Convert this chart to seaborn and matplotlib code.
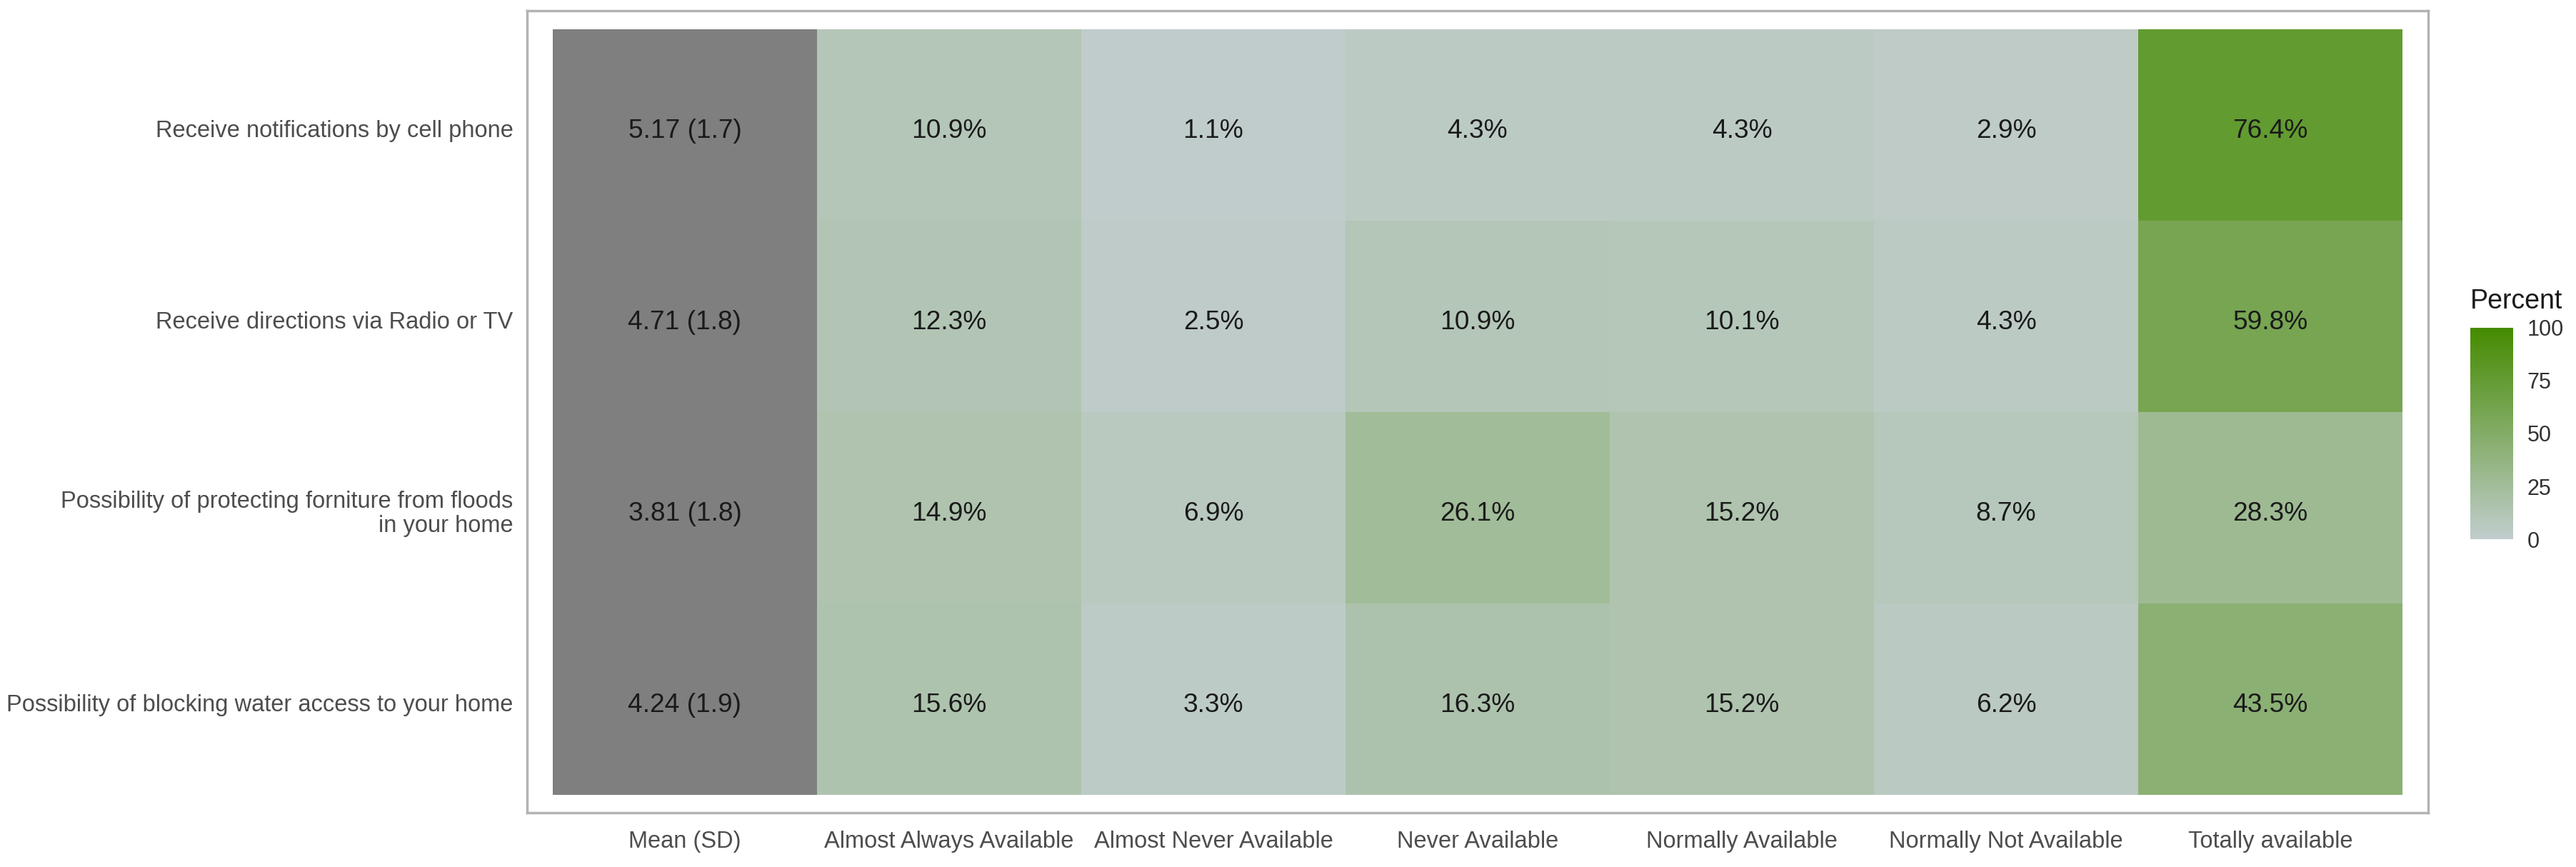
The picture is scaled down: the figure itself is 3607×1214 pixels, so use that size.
import numpy as np
import pandas as pd
import seaborn as sns
import matplotlib.pyplot as plt
from matplotlib.colors import LinearSegmentedColormap, ListedColormap
from matplotlib.transforms import ScaledTranslation

# Items (rows) and answer categories (columns)
items = [
    'Receive notifications by cell phone',
    'Receive directions via Radio or TV',
    'Possibility of protecting forniture from floods\nin your home',
    'Possibility of blocking water access to your home',
]
categories = ['Almost Always Available', 'Almost Never Available', 'Never Available',
              'Normally Available', 'Normally Not Available', 'Totally available']

# Percent of answers per category
almost_always = [10.9, 12.3, 14.9, 15.6]
almost_never = [1.1, 2.5, 6.9, 3.3]
never = [4.3, 10.9, 26.1, 16.3]
normally = [4.3, 10.1, 15.2, 15.2]
normally_not = [2.9, 4.3, 8.7, 6.2]
totally = [76.4, 59.8, 28.3, 43.5]

# Mean and SD of the score
means = [5.17, 4.71, 3.81, 4.24]
sds = [1.7, 1.8, 1.8, 1.9]

mean_col = 'Mean (SD)'
cols = [mean_col] + categories

pct = pd.DataFrame(
    np.column_stack([almost_always, almost_never, never, normally, normally_not, totally]),
    index=items, columns=categories)
pct.insert(0, mean_col, np.nan)

mean_df = pd.DataFrame(np.nan, index=items, columns=cols)
mean_df[mean_col] = means

pct_labels = pct.map(lambda v: '' if np.isnan(v) else f'{v:.1f}%').values
mean_labels = np.array([[f'{m:.2f} ({s:.1f})' if c == mean_col else '' for c in cols]
                        for m, s in zip(means, sds)])

sns.set_theme(style='white')
plt.rcParams['font.family'] = ['Liberation Sans', 'DejaVu Sans']

cmap = LinearSegmentedColormap.from_list('pct', ['#C1CDCD', '#458B00'])

fig = plt.figure(figsize=(36.07, 12.14), dpi=100)
ax = fig.add_axes([0.2046, 0.0626, 0.738, 0.925])
cax = fig.add_axes([0.959, 0.378, 0.0166, 0.244])

cell_kws = dict(size=26.7, color='#1a1a1a')
sns.heatmap(pct, cmap=cmap, vmin=0, vmax=100, annot=pct_labels, fmt='',
            annot_kws=cell_kws, cbar_ax=cax, ax=ax, linewidths=0)
sns.heatmap(mean_df, cmap=ListedColormap(['#7f7f7f']), vmin=0, vmax=10,
            annot=mean_labels, fmt='', annot_kws=cell_kws, cbar=False, ax=ax, linewidths=0)

ax.set_xlim(-0.097, 7.097)
ax.set_ylim(4.095, -0.095)
ax.set_xticks(np.arange(len(cols)) + 0.5)
ax.set_xticklabels(cols, rotation=0, fontsize=23.5, color='#4d4d4d')
ax.set_yticks(np.arange(len(items)) + 0.5)
ax.set_yticklabels(items, rotation=0, fontsize=23.5, color='#4d4d4d',
                   ha='right', multialignment='right', linespacing=1.1)
ax.tick_params(axis='x', length=0, pad=18)
ax.tick_params(axis='y', length=0, pad=14)
ax.set_xlabel('')
ax.set_ylabel('')
for sp in ax.spines.values():
    sp.set_visible(True)
    sp.set_color('#b3b3b3')
    sp.set_linewidth(2.5)

# nudge text a little lower, like the ggplot original
shift = ScaledTranslation(0, -0.09, fig.dpi_scale_trans)
for t in ax.texts:
    t.set_transform(t.get_transform() + shift)
for t in ax.get_yticklabels():
    t.set_transform(t.get_transform() + shift)

# colour bar legend
cbar = ax.collections[0].colorbar
cbar.outline.set_visible(False)
cbar.set_ticks([0, 25, 50, 75, 100])
cax.tick_params(direction='in', color='white', length=7.5, width=1.5,
                left=True, right=True, labelleft=False, labelright=True,
                labelsize=22, labelcolor='#333333', pad=14)
fig.text(0.959, 0.652, 'Percent', ha='left', va='center', fontsize=27, color='#1a1a1a')

fig.savefig('out.png', dpi=100)
